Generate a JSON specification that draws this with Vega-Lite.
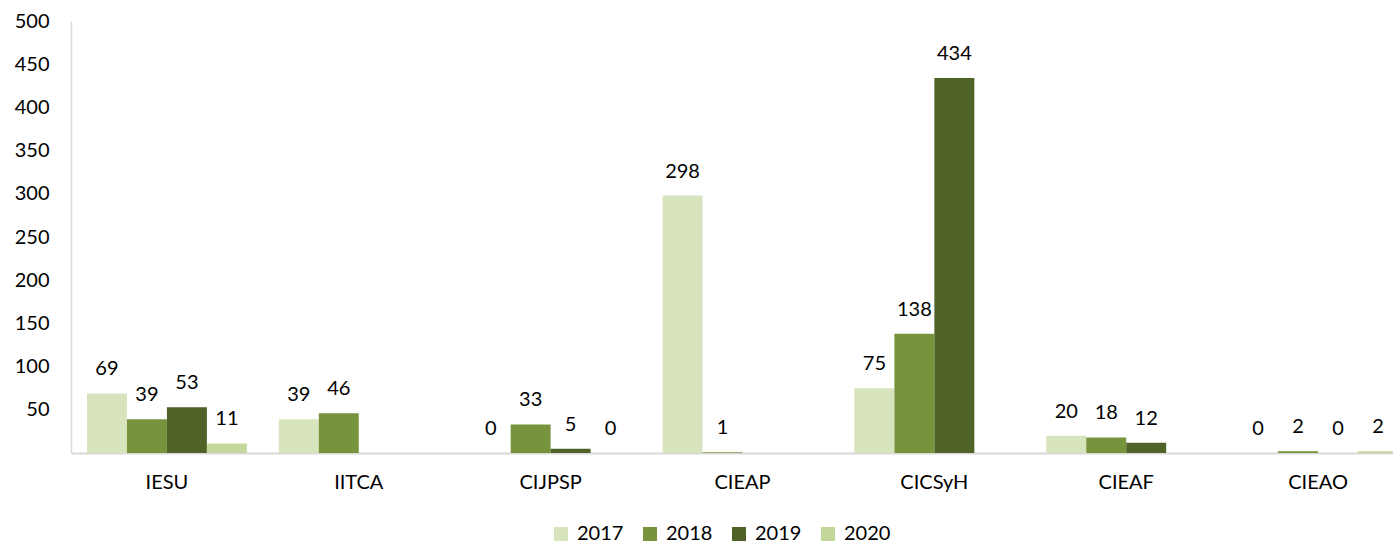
{
  "$schema": "https://vega.github.io/schema/vega-lite/v6.json",
  "autosize": {"type": "none"},
  "padding": {"left": 71, "top": 21, "right": 0, "bottom": 93},
  "width": 1322,
  "height": 432,
  "background": "white",
  "config": {
    "view": {"stroke": null},
    "font": "Lato",
    "axis": {"labelFont": "Lato", "labelFontSize": 20, "labelColor": "#000000"},
    "legend": {"labelFont": "Lato", "labelFontSize": 20, "labelColor": "#000000"}
  },
  "data": {
    "values": [
      {"centro": "IESU", "anio": "2017", "valor": 69},
      {"centro": "IESU", "anio": "2018", "valor": 39},
      {"centro": "IESU", "anio": "2019", "valor": 53},
      {"centro": "IESU", "anio": "2020", "valor": 11},
      {"centro": "IITCA", "anio": "2017", "valor": 39},
      {"centro": "IITCA", "anio": "2018", "valor": 46},
      {"centro": "CIJPSP", "anio": "2017", "valor": 0},
      {"centro": "CIJPSP", "anio": "2018", "valor": 33},
      {"centro": "CIJPSP", "anio": "2019", "valor": 5},
      {"centro": "CIJPSP", "anio": "2020", "valor": 0},
      {"centro": "CIEAP", "anio": "2017", "valor": 298},
      {"centro": "CIEAP", "anio": "2018", "valor": 1},
      {"centro": "CICSyH", "anio": "2017", "valor": 75},
      {"centro": "CICSyH", "anio": "2018", "valor": 138},
      {"centro": "CICSyH", "anio": "2019", "valor": 434},
      {"centro": "CIEAF", "anio": "2017", "valor": 20},
      {"centro": "CIEAF", "anio": "2018", "valor": 18},
      {"centro": "CIEAF", "anio": "2019", "valor": 12},
      {"centro": "CIEAO", "anio": "2017", "valor": 0},
      {"centro": "CIEAO", "anio": "2018", "valor": 2},
      {"centro": "CIEAO", "anio": "2019", "valor": 0},
      {"centro": "CIEAO", "anio": "2020", "valor": 2}
    ]
  },
  "encoding": {
    "x": {
      "field": "centro",
      "type": "nominal",
      "sort": ["IESU", "IITCA", "CIJPSP", "CIEAP", "CICSyH", "CIEAF", "CIEAO"],
      "scale": {"range": [0, 1343], "paddingInner": 0.1667, "paddingOuter": 0.0833},
      "axis": {
        "title": null,
        "labelAngle": 0,
        "ticks": false,
        "domainColor": "#d9d9d9",
        "domainWidth": 2,
        "labelPadding": 19
      }
    },
    "xOffset": {
      "field": "anio",
      "type": "nominal",
      "scale": {"domain": ["2017", "2018", "2019", "2020"], "paddingInner": 0, "paddingOuter": 0}
    },
    "y": {
      "field": "valor",
      "type": "quantitative",
      "scale": {"domain": [0, 500], "nice": false},
      "axis": {
        "title": null,
        "values": [50, 100, 150, 200, 250, 300, 350, 400, 450, 500],
        "ticks": false,
        "grid": false,
        "domainColor": "#d9d9d9",
        "domainWidth": 1.5,
        "labelPadding": 22
      }
    }
  },
  "layer": [
    {
      "mark": {"type": "bar", "clip": true},
      "encoding": {
        "color": {
          "field": "anio",
          "type": "nominal",
          "scale": {
            "domain": ["2017", "2018", "2019", "2020"],
            "range": ["#d7e4bd", "#77933c", "#4f6228", "#c3d69b"]
          },
          "legend": {
            "title": null,
            "orient": "none",
            "direction": "horizontal",
            "legendX": 480,
            "legendY": 503,
            "symbolType": "square",
            "symbolSize": 196,
            "symbolStrokeWidth": 0,
            "labelOffset": 6,
            "columnPadding": 16
          }
        }
      }
    },
    {
      "mark": {"type": "text", "fontSize": 20, "baseline": "alphabetic", "dy": -18, "color": "#000000", "clip": true},
      "encoding": {
        "text": {"field": "valor", "type": "quantitative"}
      }
    }
  ]
}
